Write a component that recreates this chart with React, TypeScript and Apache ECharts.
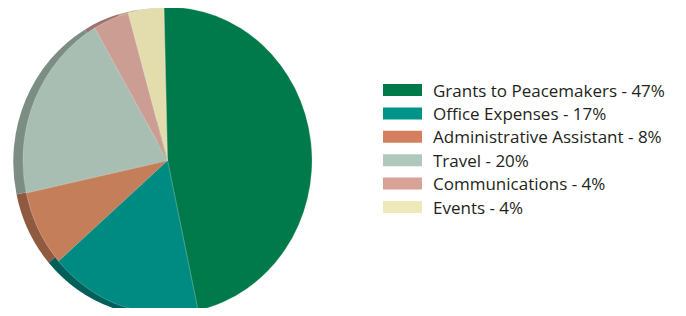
import React, { useEffect, useRef } from "react";
import * as echarts from "echarts";

const categories = [
  "Grants to Peacemakers",
  "Office Expenses",
  "Administrative Assistant",
  "Travel",
  "Communications",
  "Events",
];
const values = [47, 17, 8, 20, 4, 4];
const faceColors = ["#007A4A", "#008B82", "#C47F5A", "#A8BEB3", "#CC9D93", "#E3DDAE"];
const sideColors = ["#005A36", "#005F58", "#8F5A40", "#7C8E84", "#9C7570", "#B0AA80"];
const legendColors = ["#007A4A", "#00938A", "#D4805E", "#AFC8BB", "#D9A297", "#EFE8B8"];

export default function App() {
  const pieRef = useRef<HTMLDivElement>(null);
  const legRef = useRef<HTMLDivElement>(null);
  useEffect(() => {
    const pie = echarts.init(pieRef.current!, null, { renderer: "svg" });
    const leg = echarts.init(legRef.current!, null, { renderer: "svg" });
    const mkSeries = (front: boolean) => ({
      type: "pie",
      name: front ? "front" : "side",
      z: front ? 3 : 1,
      center: front ? [167.5, 160.5] : [157.5, 162],
      radius: 149,
      startAngle: 91.4,
      clockwise: true,
      label: { show: false },
      labelLine: { show: false },
      emphasis: { disabled: true },
      itemStyle: front
        ? { borderColor: "rgba(255,255,255,0.35)", borderWidth: 0.6 }
        : { borderWidth: 0 },
      data: categories.map((c, i) => ({
        name: front ? c : c + " ",
        value: values[i],
        itemStyle: { color: front ? faceColors[i] : sideColors[i] },
      })),
    });
    pie.setOption({
      animation: false,
      series: [mkSeries(true), mkSeries(false)],
    });
    leg.setOption({
      animation: false,
      legend: {
        orient: "vertical",
        left: 0,
        top: 81.5,
        padding: 0,
        itemWidth: 39,
        itemHeight: 12,
        itemGap: 6.4,
        icon: "rect",
        selectedMode: false,
        data: categories.map((c, i) => ({ name: c, itemStyle: { color: legendColors[i] } })),
        formatter: (name: string) => `${name} - ${values[categories.indexOf(name)]}%`,
        textStyle: {
          fontFamily: "Open Sans",
          fontSize: 17,
          color: "#231F20",
          lineHeight: 17,
          padding: [0, 0, 0, 6],
        },
      },
      series: [
        {
          type: "pie",
          radius: 0,
          silent: true,
          label: { show: false },
          labelLine: { show: false },
          data: categories.map((c, i) => ({ name: c, value: values[i], itemStyle: { color: legendColors[i] } })),
        },
      ],
    });
    return () => {
      pie.dispose();
      leg.dispose();
    };
  }, []);
  return (
    <div style={{ position: "relative", width: 686, height: 316, margin: -8 }}>
      <div
        ref={pieRef}
        style={{
          position: "absolute",
          left: 0,
          top: 0,
          width: 340,
          height: 316,
          transformOrigin: "167.5px 160.5px",
          transform: "scale(0.97, 1.03)",
        }}
      />
      <div ref={legRef} style={{ position: "absolute", left: 383, top: 0, width: 303, height: 316 }} />
    </div>
  );
}
